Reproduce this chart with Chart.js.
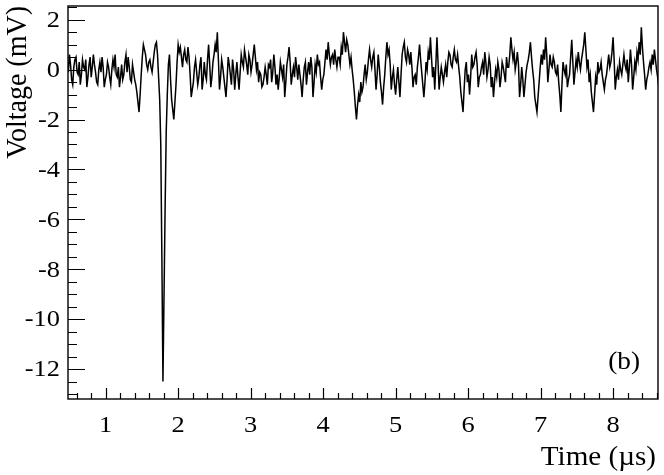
<!DOCTYPE html>
<html>
<head>
<meta charset="utf-8">
<script src="https://cdn.jsdelivr.net/npm/chart.js@4.4.0/dist/chart.umd.min.js"></script>
<style>
  html, body { margin: 0; padding: 0; background: #fff; }
  canvas { display: block; }
</style>
</head>
<body>
<canvas id="trace" width="664" height="475"></canvas>
<script>
// scope sampling (µs)
const tStart = 0.47;
const tStep = 0.015;

// voltage samples (mV)
const voltage = [
  // baseline before the pulse
  0.3, -0.1, 0.6, 0.2, -0.4, -0.6, 0.1, 0.4, 0.5, -0.1, -0.2, 0.3, -0.6, -0.2, 0.4, 0.1,
  0.0, 0.4, -0.7, -0.3, 0.2, 0.5, -0.3, 0.1, 0.6, 0.2, -0.1, -0.5, -0.6, 0.0, 0.3, -0.1,
  0.5, 0.1, -0.7, -0.4, -0.2, 0.3, 0.1, -0.3, -0.6, 0.0, 0.4, 0.1, 0.6, -0.2, -0.3, 0.1,
  -0.7, -0.3, 0.2, -0.4, -0.2, 0.3, 0.6, -0.1, 0.5, 0.1, -0.4, -0.5, 0.2, -0.1,
  -0.4, -0.6, -0.9, -1.3, -1.7, -1.0, -0.2, 0.5, 1.0, 0.8, 0.6, 0.2, 0.0, 0.3, 0.4, 0.1,
  -0.1, 0.3, 0.7, 1.0, 1.1, 0.6, -0.3, -1.2,
  // pulse
  -3.0, -7.5, -12.5, -9.0, -5.5, -2.5, -1.0, 0.2, 0.6, -0.4, -1.2, -1.6, -2.0, -1.3, -0.6, 0.3,
  1.0, 0.7,
  // after the pulse
  0.9, 0.5, 0.1, 0.6, 0.8, 0.4, 0.3, 0.9, 0.5, -0.2, -1.1, -0.8, -0.5, 0.1, 0.4, -0.1,
  -0.6, -0.3, 0.2, 0.5, -0.8, -0.4, 0.3, -0.2, -0.4, 0.4, 1.0, 0.2, -0.7, -0.3, 0.3, 0.6,
  1.0, 0.7, 1.5, 0.4, -0.8, -0.3, 0.4, 0.1, -0.3, -0.7, -1.1, -0.4, 0.5, 0.2, -0.2, -0.6,
  0.4, 0.0, -0.8, -0.2, 0.3, -0.3, -0.8, -0.1, 0.6, 0.3, 0.1, 0.8, 0.5, 0.2, -0.2, 0.6,
  0.4, -0.1, 0.2, 0.6, 1.0, 0.5, 0.0, 0.3, -0.5, -0.1, -0.2, -0.7, -0.6, -0.3, 0.1, -0.2,
  -0.6, 0.2,
  0.1, 0.4, -0.5, -0.1, 0.6, 0.1, -0.6, -0.2, -0.8, -0.3, 0.3, 0.0, -0.3, 0.2, -1.1, -0.5,
  0.2, 0.5, 0.9, 0.3, -0.6, -0.2, 0.1, -0.3, 0.5, 0.1, -0.4, 0.2, -0.2, -0.6, -1.1, -0.4,
  0.1, 0.3, -0.6, -0.1, 0.3, -0.2, 0.5, 0.1, -1.1, -0.5, 0.2, -0.1, 0.6, 0.2, 0.3, -0.3,
  -0.8, -0.4, -0.2, 0.3, 0.8, 0.4, 1.1, 0.6, 0.2, 0.5, 0.6, 0.2, 0.8, 0.4, 0.1, 0.5,
  0.5, 0.2, 0.9, 0.6, 1.5, 1.1, 0.7, 1.2, 1.0, 0.6, 0.2, 0.5, 0.0, -0.4, -0.9, -1.5,
  -2.0, -1.4, -1.0, -1.3, -0.5, -0.9, -0.7, -0.2, 0.2, -0.4, -0.1, 0.4,
  0.8, 0.4, 0.1, 0.5, 0.7, 0.0, -0.8, -0.2, 0.6, 0.1, -0.5, -0.9, -1.4, -0.7, -0.2, 0.5,
  1.1, 0.6, 0.8, 0.2, -0.8, -0.3, 0.0, -0.6, -1.0, -0.4, 0.1, -0.5, -1.1, -0.2, 0.6, 0.9,
  1.1, 0.5, 0.3, 0.8, 0.6, 0.2, 0.7, 0.1, -0.7, -0.3, -0.2, -0.6, 0.1, 0.5, 1.0, 0.4,
  -0.1, -0.6, -1.1, -0.5, 0.3, 0.0, 0.7, 0.4, 1.3, 0.5, -0.3, 0.1, -0.8, 0.2, 1.3, 0.3,
  -0.8, -0.3, 0.1, -0.2, -0.5, -0.1, 0.2, -0.3, 0.3, 0.7, 0.6, 0.2, 0.1, 0.5, 0.8, 0.4,
  0.3, 0.6, 0.1, -0.3, -0.9, -1.3, -1.7, -0.8, 0.0, 0.3, -0.5, -0.2,
  -1.0, -0.3, 0.6, 0.1, 0.2, 0.5, 0.7, 0.2, -0.7, -0.3, -0.2, 0.1, 0.3, -0.2, 0.7, 0.3,
  -0.3, 0.0, 0.5, 0.2, -0.7, -0.3, -1.1, -0.5, 0.0, -0.3, 0.3, 0.0, -0.7, -0.3, 0.3, 0.1,
  -0.2, -0.5, 0.5, 0.1, 0.1, 0.6, 1.3, 0.8, 0.4, 0.7, 0.0, 0.3, 0.7, 0.2, -1.1, -0.6,
  0.1, -0.4, -1.1, -0.6, -0.1, 0.2, 0.4, 0.7, 1.1, 0.5, 0.0, -0.4, -1.1, -1.4, -1.7, -1.1,
  -0.5, 0.1, 0.6, 0.2, 0.8, 0.4, 1.3, 0.6, -0.5, 0.0, 0.6, 0.2, 0.1, 0.5, 0.3, -0.1,
  -0.2, 0.2, -0.5, -1.0, -1.7, -0.6, 0.3, 0.0, -0.2, 0.2, -0.7, -0.4,
  -0.2, 0.5, 1.2, 0.3, -0.6, -0.1, 0.4, 0.1, 0.7, 0.3, 0.0, 0.4, 0.7, 1.0, 1.5, 0.8,
  0.1, 0.4, -0.5, -0.2, -0.9, -1.3, -1.7, -1.0, -0.3, -0.6, 0.3, -0.1, 0.0, 0.3, -0.2, -0.5,
  -0.8, -0.4, -0.2, 0.2, 0.6, 0.1, 0.3, 0.7, 1.3, 0.4, -0.8, -0.3, 0.0, -0.4, 0.3, 0.0,
  -0.2, 0.2, 0.6, 0.2, 0.0, 0.4, -0.5, 0.1, 0.8, 0.2, -0.8, -0.3, 0.3, 0.0, 0.7, 0.4,
  1.1, 0.6, 1.7, 0.9, 0.3, -0.2, -0.8, -0.4, -0.2, 0.1, 0.3, 0.0, 0.6, 0.2, 0.8, 0.4,
  0.0, -0.3, -0.7
];

const xTickLabels = [1, 2, 3, 4, 5, 6, 7, 8];
const yTickLabels = [2, 0, -2, -4, -6, -8, -10, -12];
const xRange = [0.48, 8.62];
const yRange = [-13.2, 2.55];

const points = voltage.map((v, i) => ({ x: +(tStart + i * tStep).toFixed(3), y: v }));

// ROOT look: slightly stretched serif text
function rootText(ctx, str, px, py, align, base, size, sx, rot) {
  ctx.save();
  ctx.translate(px, py);
  ctx.scale(sx, 1);
  if (rot) ctx.rotate(rot);
  ctx.font = size + 'px "Liberation Serif"';
  ctx.textAlign = align;
  ctx.textBaseline = base;
  ctx.fillText(str, 0, 0);
  ctx.restore();
}

const rootFrame = {
  id: 'rootFrame',
  afterDraw(chart) {
    const { ctx, chartArea: a, scales: { x, y } } = chart;
    ctx.save();
    ctx.strokeStyle = '#000';
    ctx.fillStyle = '#000';

    // ticks point inwards
    ctx.lineWidth = 1.2;
    ctx.beginPath();
    for (let k = -26; k <= 5; k++) {
      const py = Math.round(y.getPixelForValue(k / 2)) + 0.5;
      const len = k % 4 === 0 ? 17 : 9;
      ctx.moveTo(a.left, py);
      ctx.lineTo(a.left + len, py);
    }
    for (let k = 3; k <= 43; k++) {
      const px = Math.round(x.getPixelForValue(k / 5)) + 0.5;
      const len = k % 5 === 0 ? 11 : 6;
      ctx.moveTo(px, a.bottom);
      ctx.lineTo(px, a.bottom - len);
    }
    ctx.stroke();

    ctx.lineWidth = 1.4;
    ctx.strokeRect(a.left, a.top, a.right - a.left, a.bottom - a.top);

    yTickLabels.forEach(v => rootText(ctx, String(v), 60, y.getPixelForValue(v) + 1, 'right', 'middle', 24, 1.1));
    xTickLabels.forEach(v => rootText(ctx, String(v), x.getPixelForValue(v), 414, 'center', 'top', 24, 1.1));

    rootText(ctx, 'Time (\u00b5s)', 656, 465, 'right', 'alphabetic', 28, 1.04);
    rootText(ctx, 'Voltage (mV)', 26, 6, 'right', 'alphabetic', 28, 1.04, -Math.PI / 2);
    rootText(ctx, '(b)', 640, 362, 'right', 'middle', 26, 1.05);
    ctx.restore();
  }
};

new Chart(document.getElementById('trace').getContext('2d'), {
  type: 'line',
  data: {
    datasets: [{
      data: points,
      borderColor: '#000',
      borderWidth: 1.5,
      pointRadius: 0,
      tension: 0,
      fill: false
    }]
  },
  options: {
    responsive: false,
    animation: false,
    layout: { padding: { left: 68, right: 6, top: 6, bottom: 76 } },
    plugins: { legend: { display: false }, tooltip: { enabled: false } },
    scales: {
      x: { type: 'linear', min: xRange[0], max: xRange[1], display: false },
      y: { type: 'linear', min: yRange[0], max: yRange[1], display: false }
    }
  },
  plugins: [rootFrame]
});
</script>
</body>
</html>
